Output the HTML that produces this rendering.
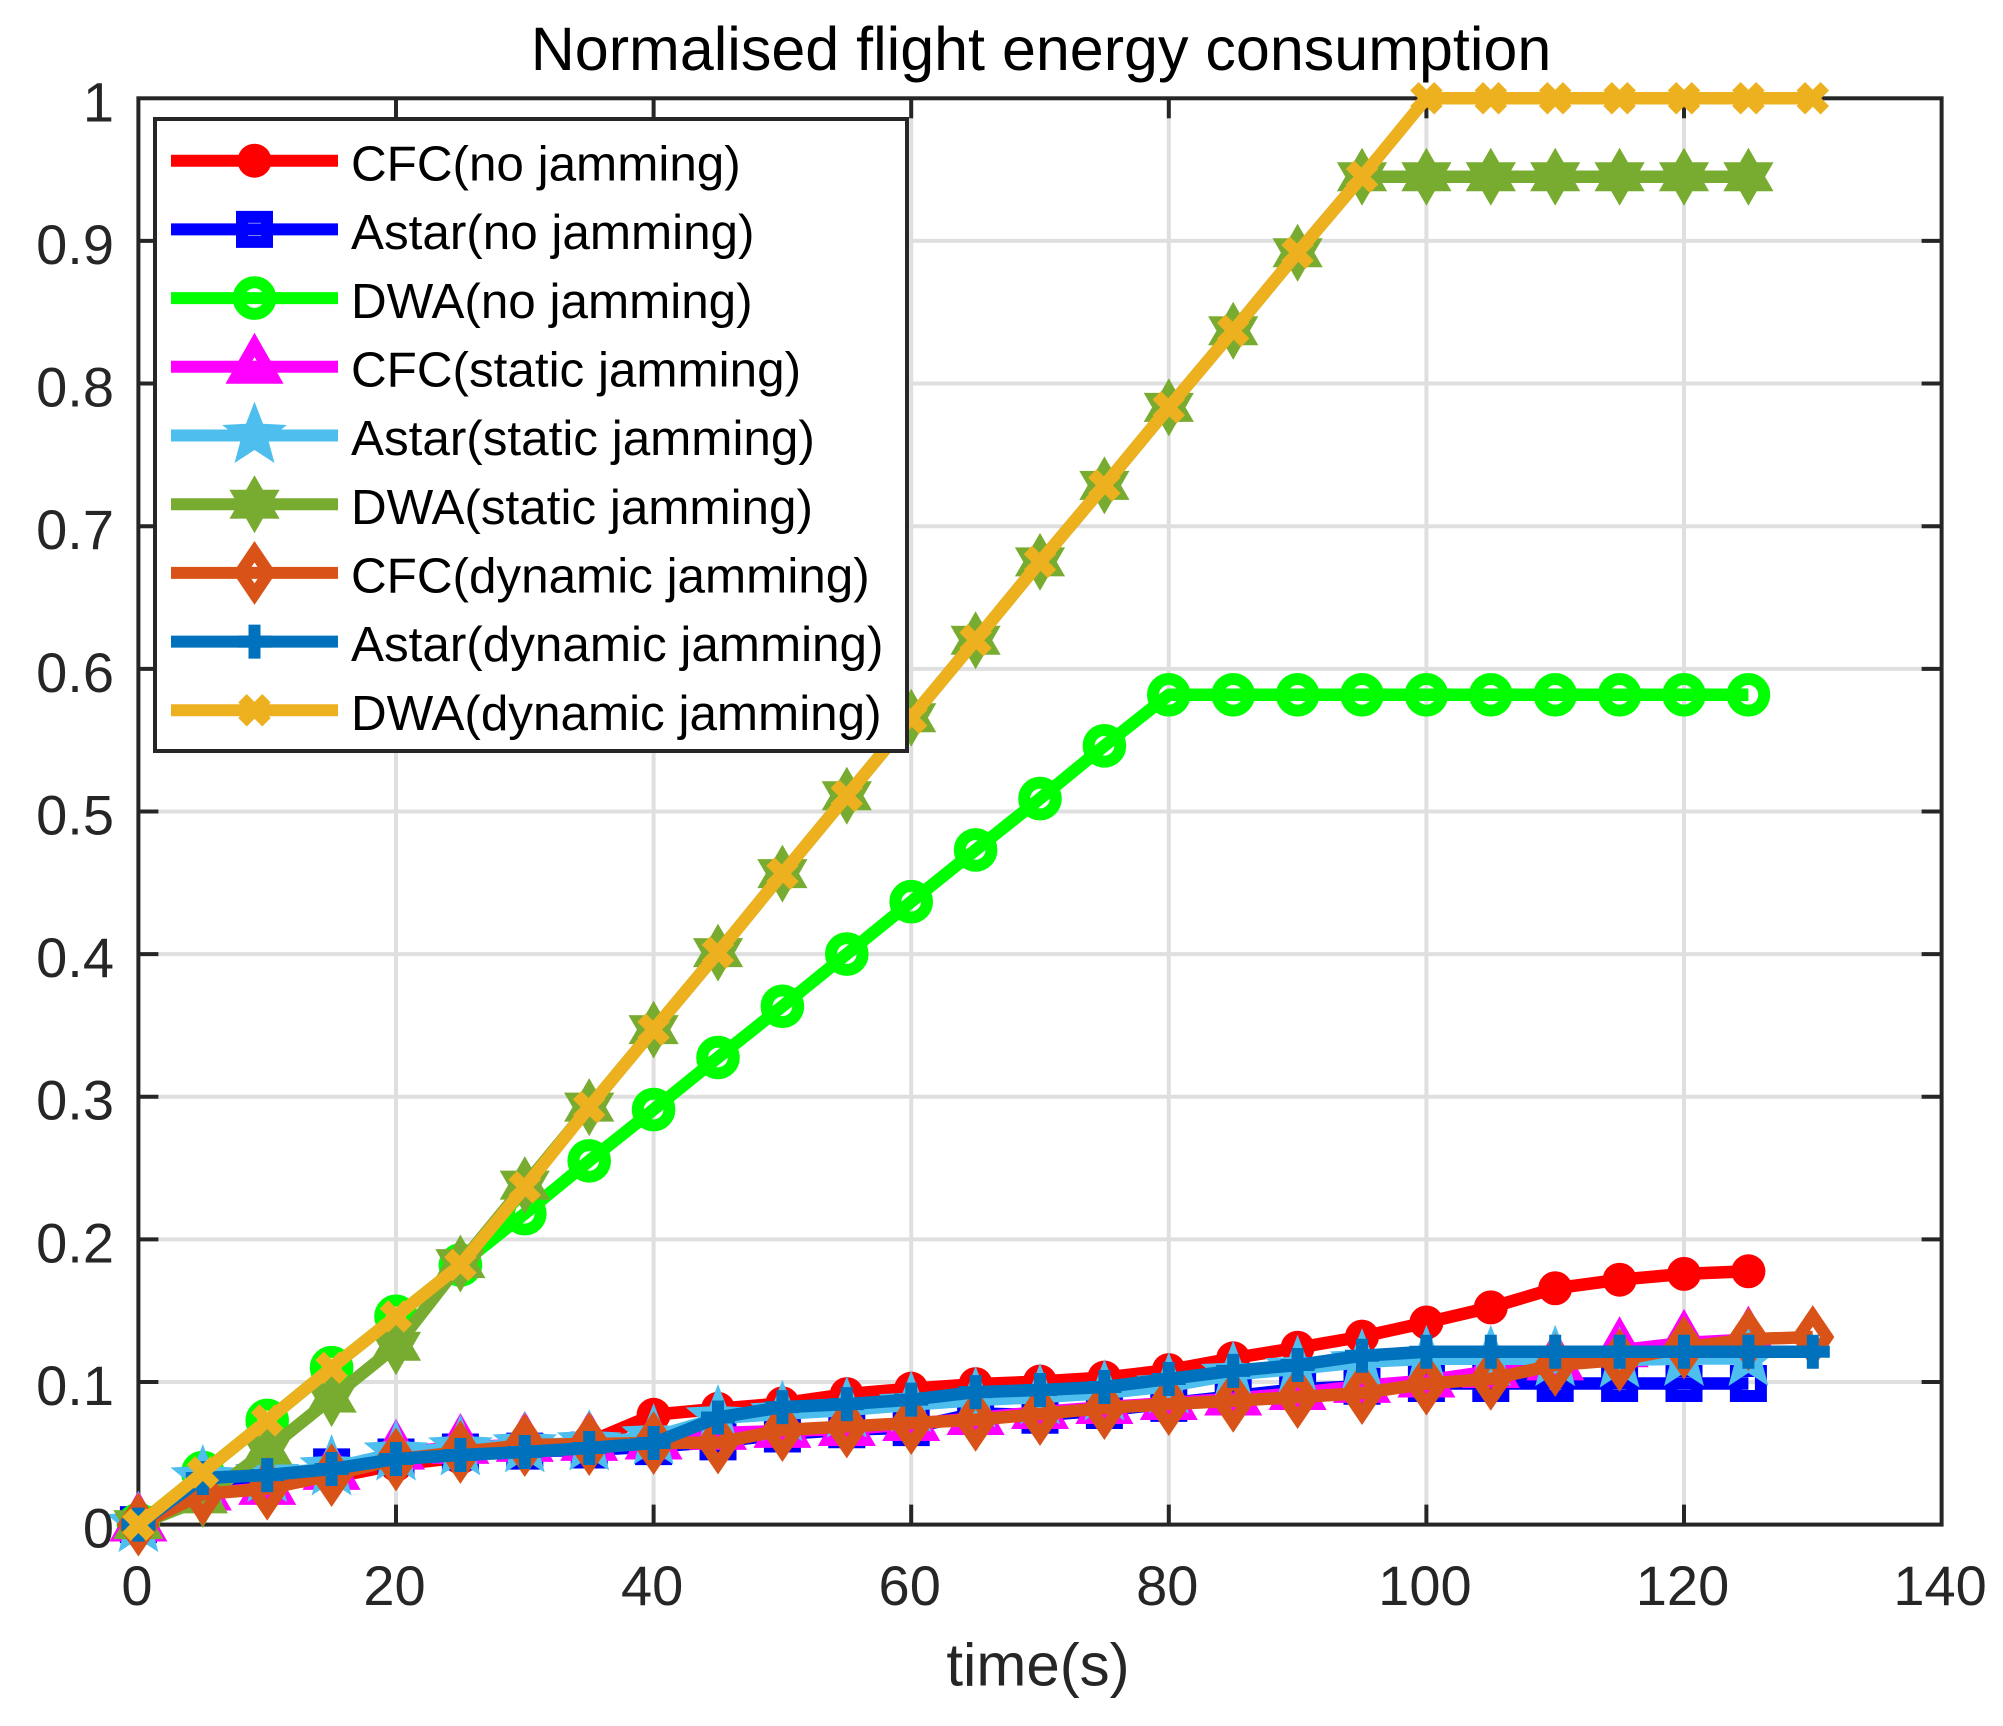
<!DOCTYPE html>
<html lang="en">
<head>
<meta charset="utf-8">
<title>Normalised flight energy consumption</title>
<style>
html,body{margin:0;padding:0;background:#fff}
svg{display:block}
text{font-family:"Liberation Sans",Arial,sans-serif}
</style>
</head>
<body>
<svg id="chart" xmlns="http://www.w3.org/2000/svg" width="2003" height="1726" viewBox="0 0 2003 1726">
  <rect x="0" y="0" width="2003" height="1726" fill="#fff"/>
  <g id="grid"></g>
  <g id="axes"></g>
  <g id="series"></g>
  <g id="tick-labels"></g>
  <text x="1041" y="70" font-size="61" fill="#000" text-anchor="middle">Normalised flight energy consumption</text>
  <text x="1038" y="1685.5" font-size="60" fill="#262626" text-anchor="middle">time(s)</text>
  <g id="legend">
    <rect x="155" y="119" width="752" height="632" fill="#fff" stroke="#262626" stroke-width="4"/>
    <g id="legend-samples"></g>
    <g font-size="49.4" fill="#000">
      <text x="351" y="180.5">CFC(no jamming)</text>
      <text x="351" y="249">Astar(no jamming)</text>
      <text x="351" y="318">DWA(no jamming)</text>
      <text x="351" y="386.5">CFC(static jamming)</text>
      <text x="351" y="455">Astar(static jamming)</text>
      <text x="351" y="524">DWA(static jamming)</text>
      <text x="351" y="592.5">CFC(dynamic jamming)</text>
      <text x="351" y="661">Astar(dynamic jamming)</text>
      <text x="351" y="730">DWA(dynamic jamming)</text>
    </g>
  </g>
</svg>
<script>
// Chart data
const times = [0,5,10,15,20,25,30,35,40,45,50,55,60,65,70,75,80,85,90,95,100,105,110,115,120,125,130];
const xTickValues = [0,20,40,60,80,100,120,140];
const xTickLabels = ['0','20','40','60','80','100','120','140'];
const yTickValues = [0,0.1,0.2,0.3,0.4,0.5,0.6,0.7,0.8,0.9,1];
const yTickLabels = ['0','0.1','0.2','0.3','0.4','0.5','0.6','0.7','0.8','0.9','1'];

const cfcNoJamming = [0,0.022,0.027,0.033,0.042,0.047,0.054,0.058,0.077,0.0812,0.085,0.0915,0.0953,0.0985,0.1003,0.1031,0.1083,0.1166,0.124,0.1318,0.1417,0.1523,0.1657,0.1717,0.1758,0.1776];
const astarNoJamming = [0,0.03,0.031,0.0405,0.0474,0.0509,0.0515,0.0523,0.0547,0.058,0.0635,0.0665,0.068,0.078,0.0767,0.08,0.085,0.09,0.095,0.097,0.0989,0.0989,0.0989,0.0989,0.0989,0.0989];
const dwaNoJamming = [0,0.0365,0.073,0.11,0.146,0.182,0.218,0.255,0.291,0.3275,0.3634,0.4,0.4367,0.473,0.509,0.546,0.5818,0.5818,0.5818,0.5818,0.5818,0.5818,0.5818,0.5818,0.5818,0.5818];
const cfcStaticJamming = [0,0.0217,0.0257,0.0362,0.0504,0.0544,0.0558,0.0565,0.0575,0.0642,0.0656,0.067,0.0705,0.0747,0.0789,0.0824,0.0852,0.0883,0.0922,0.0972,0.101,0.1076,0.113,0.1222,0.1274,0.1297];
const astarStaticJamming = [0,0.0327,0.035,0.0397,0.0501,0.0537,0.0558,0.0572,0.0614,0.0747,0.0777,0.0803,0.0841,0.0873,0.0894,0.0922,0.0971,0.1052,0.1093,0.114,0.1163,0.1163,0.1163,0.1153,0.1165,0.1165];
const dwaStaticJamming = [0,0.018,0.0523,0.0887,0.125,0.183,0.238,0.2927,0.347,0.401,0.4564,0.511,0.5657,0.62,0.675,0.7286,0.7833,0.837,0.8917,0.945,0.945,0.945,0.945,0.945,0.945,0.945];
const cfcDynamicJamming = [0,0.0214,0.0252,0.0347,0.0457,0.0509,0.0558,0.0565,0.0572,0.0575,0.0663,0.0688,0.0712,0.0735,0.0775,0.0817,0.0845,0.0868,0.0894,0.0922,0.0988,0.1022,0.1119,0.1154,0.1241,0.13,0.1315];
const astarDynamicJamming = [0,0.0327,0.0347,0.039,0.046,0.0488,0.0509,0.0537,0.0572,0.0751,0.0824,0.0845,0.0876,0.0929,0.0944,0.0965,0.1021,0.1078,0.1119,0.1184,0.1212,0.1212,0.1212,0.1212,0.1212,0.1212,0.1212];
const dwaDynamicJamming = [0,0.0365,0.073,0.11,0.146,0.182,0.2365,0.2927,0.347,0.401,0.4564,0.511,0.5657,0.62,0.675,0.7286,0.7833,0.837,0.8917,0.945,1,1,1,1,1,1,1];

const NS = 'http://www.w3.org/2000/svg';
const plot = {left:138.4, right:1941.6, top:98.3, bottom:1524.6, xMax:140, yMax:1};
function xScale(t){ return plot.left + (plot.right - plot.left) * t / plot.xMax; }
function yScale(v){ return plot.bottom - (plot.bottom - plot.top) * v / plot.yMax; }

function make(tag, parent, attrs){
  const el = document.createElementNS(NS, tag);
  for (const k in attrs) el.setAttribute(k, attrs[k]);
  parent.appendChild(el);
  return el;
}

function star(R, r, n, startDeg){
  const pts = [];
  for (let i = 0; i < n * 2; i++){
    const a = (startDeg + i * 180 / n) * Math.PI / 180;
    const rad = i % 2 ? r : R;
    pts.push((rad * Math.cos(a)).toFixed(2) + ',' + (rad * Math.sin(a)).toFixed(2));
  }
  return 'M' + pts.join('L') + 'Z';
}

const markerShapes = {
  filledCircle: {d:'M-17,0A17,17 0 1 1 17,0A17,17 0 1 1 -17,0Z', fill:true, sw:0},
  square: {d:'M-12.5,-12.5H12.5V12.5H-12.5Z', fill:false, sw:12},
  circle: {d:'M-15.8,0A15.8,15.8 0 1 1 15.8,0A15.8,15.8 0 1 1 -15.8,0Z', fill:false, sw:12},
  triangle: {d:'M0,-21.9L18.7,10.9H-18.7Z', fill:false, sw:12},
  pentagram: {d:star(34,14.5,5,-90), fill:true, sw:0},
  hexagram: {d:star(29,16.7,6,-90), fill:true, sw:0},
  diamond: {d:'M0,-21.2L14.3,0L0,21.2L-14.3,0Z', fill:false, sw:12},
  plus: {d:'M-17,0H17M0,-17V17', fill:false, sw:12},
  cross: {d:'M-12,-12L12,12M-12,12L12,-12', fill:false, sw:12}
};

function drawMarker(parent, shape, color, x, y){
  const s = markerShapes[shape];
  const el = make('path', parent, {
    d: s.d,
    transform: 'translate(' + x.toFixed(2) + ',' + y.toFixed(2) + ')',
    fill: s.fill ? color : 'none',
    stroke: s.sw ? color : 'none',
    'stroke-width': s.sw,
    'stroke-miterlimit': 20
  });
  
  
}

const seriesDefs = [
  {name:'cfc-no-jamming', values:cfcNoJamming, color:'#ff0000', marker:'filledCircle'},
  {name:'astar-no-jamming', values:astarNoJamming, color:'#0000ff', marker:'square'},
  {name:'dwa-no-jamming', values:dwaNoJamming, color:'#00ff00', marker:'circle'},
  {name:'cfc-static-jamming', values:cfcStaticJamming, color:'#ff00ff', marker:'triangle'},
  {name:'astar-static-jamming', values:astarStaticJamming, color:'#4dbeee', marker:'pentagram'},
  {name:'dwa-static-jamming', values:dwaStaticJamming, color:'#77ac30', marker:'hexagram'},
  {name:'cfc-dynamic-jamming', values:cfcDynamicJamming, color:'#d95319', marker:'diamond'},
  {name:'astar-dynamic-jamming', values:astarDynamicJamming, color:'#0072bd', marker:'plus'},
  {name:'dwa-dynamic-jamming', values:dwaDynamicJamming, color:'#edb120', marker:'cross'}
];

// Grid
const gridG = document.getElementById('grid');
xTickValues.forEach(function(t){
  if (t === 0 || t === plot.xMax) return;
  const l = make('line', gridG, {x1:xScale(t), x2:xScale(t), y1:plot.top, y2:plot.bottom, stroke:'#dfdfdf', 'stroke-width':4});
  
  
});
yTickValues.forEach(function(v){
  if (v === 0 || v === plot.yMax) return;
  const l = make('line', gridG, {x1:plot.left, x2:plot.right, y1:yScale(v), y2:yScale(v), stroke:'#dfdfdf', 'stroke-width':4});
  
  
});

// Axes box and ticks
const axesG = document.getElementById('axes');
const tickLen = 20;
xTickValues.forEach(function(t){
  if (t === 0 || t === plot.xMax) return;
  const a = make('line', axesG, {x1:xScale(t), x2:xScale(t), y1:plot.bottom, y2:plot.bottom - tickLen, stroke:'#262626', 'stroke-width':4});
  
  
  const b = make('line', axesG, {x1:xScale(t), x2:xScale(t), y1:plot.top, y2:plot.top + tickLen, stroke:'#262626', 'stroke-width':4});
  
  
});
yTickValues.forEach(function(v){
  if (v === 0 || v === plot.yMax) return;
  const a = make('line', axesG, {x1:plot.left, x2:plot.left + tickLen, y1:yScale(v), y2:yScale(v), stroke:'#262626', 'stroke-width':4});
  
  
  const b = make('line', axesG, {x1:plot.right, x2:plot.right - tickLen, y1:yScale(v), y2:yScale(v), stroke:'#262626', 'stroke-width':4});
  
  
});
const box = make('rect', axesG, {x:plot.left, y:plot.top, width:plot.right - plot.left, height:plot.bottom - plot.top, fill:'none', stroke:'#262626', 'stroke-width':4});



// Tick labels
const labelG = document.getElementById('tick-labels');
xTickValues.forEach(function(t, i){
  const el = make('text', labelG, {x:xScale(t) - 1.5, y:1605, 'font-size':56, fill:'#262626', 'text-anchor':'middle'});
  el.textContent = xTickLabels[i];
  
  
});
yTickValues.forEach(function(v, i){
  const el = make('text', labelG, {x:114, y:yScale(v) + 23, 'font-size':56, fill:'#262626', 'text-anchor':'end'});
  el.textContent = yTickLabels[i];
  
  
});

// Series
const seriesG = document.getElementById('series');
seriesDefs.forEach(function(s){
  const g = make('g', seriesG, {});
  
  
  const pts = s.values.map(function(v, i){ return xScale(times[i]).toFixed(2) + ',' + yScale(v).toFixed(2); }).join(' ');
  const line = make('polyline', g, {points:pts, fill:'none', stroke:s.color, 'stroke-width':12.5, 'stroke-linejoin':'round'});
  
  
  s.values.forEach(function(v, i){ drawMarker(g, s.marker, s.color, xScale(times[i]), yScale(v)); });
});

// Legend samples
const legendG = document.getElementById('legend-samples');
seriesDefs.forEach(function(s, i){
  const yy = 160.7 + i * 68.7;
  const g = make('g', legendG, {});
  
  
  const line = make('line', g, {x1:171, x2:338, y1:yy, y2:yy, stroke:s.color, 'stroke-width':12});
  
  
  drawMarker(g, s.marker, s.color, 254.5, yy);
});
</script>
</body>
</html>
